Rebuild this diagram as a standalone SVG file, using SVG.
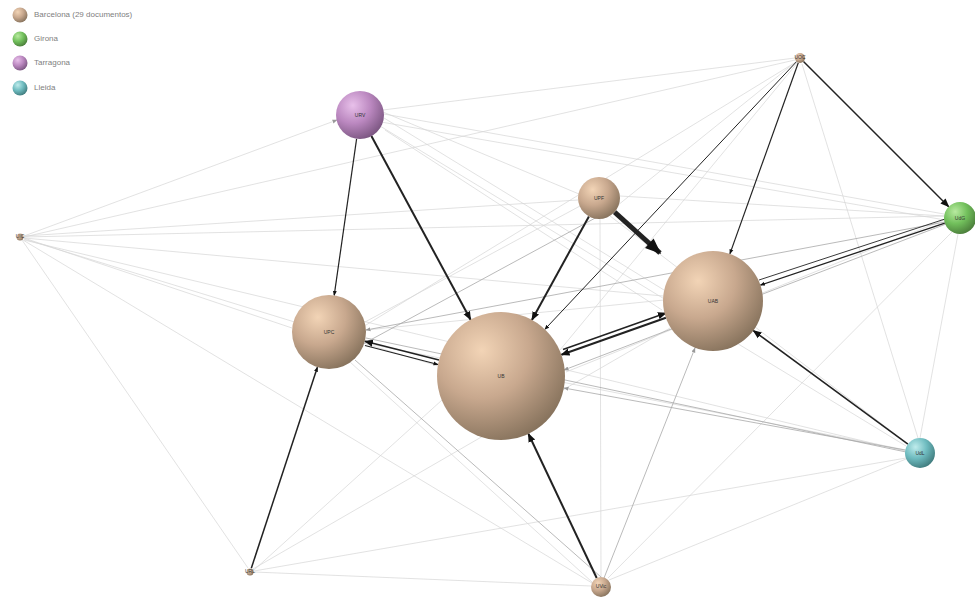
<svg xmlns="http://www.w3.org/2000/svg" width="975" height="601" viewBox="0 0 975 601">
<defs>
<radialGradient id="gTan" cx="0.35" cy="0.3" r="0.75">
<stop offset="0" stop-color="#f2d4b6"/><stop offset="0.5" stop-color="#c8a88e"/><stop offset="1" stop-color="#86725c"/>
</radialGradient>
<radialGradient id="gPur" cx="0.35" cy="0.3" r="0.75">
<stop offset="0" stop-color="#e8c0ea"/><stop offset="0.5" stop-color="#bb88c0"/><stop offset="1" stop-color="#7a5580"/>
</radialGradient>
<radialGradient id="gGrn" cx="0.35" cy="0.3" r="0.75">
<stop offset="0" stop-color="#b8eaa0"/><stop offset="0.5" stop-color="#72c05c"/><stop offset="1" stop-color="#4a7c3a"/>
</radialGradient>
<radialGradient id="gTeal" cx="0.35" cy="0.3" r="0.75">
<stop offset="0" stop-color="#bfecec"/><stop offset="0.5" stop-color="#6fbcc0"/><stop offset="1" stop-color="#3f7a7c"/>
</radialGradient>
<marker id="ah" viewBox="0 0 10 10" refX="9" refY="5" markerWidth="5" markerHeight="5" orient="auto" markerUnits="userSpaceOnUse">
<path d="M0,1 L10,5 L0,9 z" fill="#111"/>
</marker>
<marker id="ahBig" viewBox="0 0 10 10" refX="9" refY="5" markerWidth="18" markerHeight="16" orient="auto" markerUnits="userSpaceOnUse">
<path d="M0,1 L10,5 L0,9 z" fill="#111"/>
</marker>
<marker id="ahMid" viewBox="0 0 10 10" refX="9" refY="5" markerWidth="9" markerHeight="9" orient="auto" markerUnits="userSpaceOnUse">
<path d="M0,1 L10,5 L0,9 z" fill="#111"/>
</marker>
<marker id="ahG" viewBox="0 0 10 10" refX="9" refY="5" markerWidth="5" markerHeight="5" orient="auto" markerUnits="userSpaceOnUse">
<path d="M0,1 L10,5 L0,9 z" fill="#999"/>
</marker>
</defs>
<style>
.lt{stroke:#d6d6d6;stroke-width:0.7;fill:none}
.md{stroke:#a8a8a8;stroke-width:0.8;fill:none}
.dk{stroke:#222;fill:none}
.lab{font-family:"Liberation Sans",Arial,sans-serif;font-size:5px;fill:#333;text-anchor:middle;dominant-baseline:middle}
.leg{font-family:"Liberation Sans",Arial,sans-serif;font-size:8px;fill:#808080;dominant-baseline:middle}
</style>
<rect width="975" height="601" fill="#fff"/>

<g id="legend">
<circle cx="20" cy="15" r="7.5" fill="url(#gTan)"/><text class="leg" x="34" y="15">Barcelona (29 documentos)</text>
<circle cx="20" cy="39" r="7.5" fill="url(#gGrn)"/><text class="leg" x="34" y="39">Girona</text>
<circle cx="20" cy="63" r="7.5" fill="url(#gPur)"/><text class="leg" x="34" y="63">Tarragona</text>
<circle cx="20" cy="88" r="7.5" fill="url(#gTeal)"/><text class="leg" x="34" y="88">Lleida</text>
</g>

<g id="connectors">
<line class="lt" x1="24" y1="236" x2="337" y2="120" marker-end="url(#ahG)"/>
<line class="lt" x1="24" y1="236" x2="578" y2="200"/>
<line class="lt" x1="24" y1="237" x2="795" y2="60"/>
<line class="lt" x1="24" y1="237" x2="944" y2="216"/>
<line class="lt" x1="24" y1="238" x2="663" y2="296"/>
<line class="lt" x1="24" y1="238" x2="292" y2="328"/>
<line class="lt" x1="24" y1="239" x2="438" y2="366"/>
<line class="lt" x1="24" y1="240" x2="905" y2="451"/>
<line class="lt" x1="22" y1="240" x2="248" y2="568"/>
<line class="lt" x1="23" y1="240" x2="592" y2="583"/>
<line class="lt" x1="383" y1="110" x2="795" y2="58"/>
<line class="lt" x1="384" y1="114" x2="944" y2="214"/>
<line class="lt" x1="384" y1="118" x2="664" y2="290"/>
<line class="lt" x1="383" y1="112" x2="579" y2="194"/>
<line class="lt" x1="380" y1="126" x2="906" y2="446"/>
<line class="lt" x1="381" y1="122" x2="945" y2="220"/>
<line class="lt" x1="620" y1="196" x2="944" y2="216"/>
<line class="lt" x1="600" y1="219" x2="601" y2="577"/>
<line class="lt" x1="580" y1="206" x2="365" y2="322"/>
<line class="lt" x1="610" y1="216" x2="908" y2="444"/>
<line class="lt" x1="366" y1="325" x2="796" y2="62"/>
<line class="lt" x1="366" y1="330" x2="664" y2="300"/>
<line class="lt" x1="364" y1="343" x2="906" y2="450"/>
<line class="lt" x1="350" y1="362" x2="592" y2="582"/>
<line class="lt" x1="253" y1="569" x2="670" y2="328"/>
<line class="lt" x1="254" y1="570" x2="442" y2="400"/>
<line class="lt" x1="254" y1="572" x2="591" y2="586"/>
<line class="lt" x1="254" y1="571" x2="906" y2="458"/>
<line class="lt" x1="609" y1="580" x2="906" y2="459"/>
<line class="lt" x1="608" y1="578" x2="952" y2="232"/>
<line class="lt" x1="920" y1="438" x2="958" y2="234"/>
<line class="lt" x1="566" y1="372" x2="944" y2="220"/>
<line class="lt" x1="802" y1="64" x2="918" y2="438"/>
<line class="lt" x1="560" y1="350" x2="798" y2="62"/>
<line class="lt" x1="602" y1="218" x2="798" y2="60"/>
<line class="lt" x1="385" y1="130" x2="662" y2="310"/>
<line class="md" x1="945" y1="222" x2="366" y2="330" marker-end="url(#ahG)"/>
<line class="md" x1="946" y1="224" x2="564" y2="370" marker-end="url(#ahG)"/>
<line class="md" x1="905" y1="450" x2="564" y2="388" marker-end="url(#ahG)"/>
<line class="md" x1="906" y1="452" x2="366" y2="338"/>
<line class="md" x1="604" y1="578" x2="695" y2="348" marker-end="url(#ahG)"/>
<line class="md" x1="610" y1="210" x2="363" y2="344"/>
<line class="md" x1="355" y1="360" x2="601" y2="577"/>
<line class="dk" stroke-width="5" x1="614.6" y1="212.1" x2="660" y2="253" marker-end="url(#ahBig)"/>
<line class="dk" stroke-width="2" x1="588.9" y1="216.4" x2="531.9" y2="319.9" marker-end="url(#ahMid)"/>
<line class="dk" stroke-width="1.2" x1="356.6" y1="138.8" x2="334.2" y2="295.4" marker-end="url(#ah)"/>
<line class="dk" stroke-width="2" x1="371.4" y1="136.1" x2="470.6" y2="319.7" marker-end="url(#ahMid)"/>
<line class="dk" stroke-width="1.2" x1="798.3" y1="62.7" x2="729.9" y2="253.9" marker-end="url(#ah)"/>
<line class="dk" stroke-width="1.5" x1="803.5" y1="61.5" x2="948.7" y2="206.7" marker-end="url(#ahMid)"/>
<line class="dk" stroke-width="1" x1="796.6" y1="61.6" x2="544.8" y2="329.4" marker-end="url(#ah)"/>
<line class="dk" stroke-width="2" x1="665.9" y1="317.7" x2="561.4" y2="354.7" marker-end="url(#ahMid)"/>
<line class="dk" stroke-width="1.5" x1="563" y1="349.5" x2="666" y2="313" marker-end="url(#ahMid)"/>
<line class="dk" stroke-width="1.5" x1="439" y1="360.1" x2="364.9" y2="341.2" marker-end="url(#ahMid)"/>
<line class="dk" stroke-width="1.2" x1="365" y1="345.5" x2="438" y2="364.5" marker-end="url(#ah)"/>
<line class="dk" stroke-width="1.5" x1="907.9" y1="444.1" x2="753.3" y2="330.6" marker-end="url(#ahMid)"/>
<line class="dk" stroke-width="2" x1="596.7" y1="578" x2="528.4" y2="433.8" marker-end="url(#ahMid)"/>
<line class="dk" stroke-width="1.5" x1="251.3" y1="568.2" x2="317.4" y2="367.2" marker-end="url(#ah)"/>
<line class="dk" stroke-width="1.3" x1="944.8" y1="223.1" x2="760.4" y2="285.1" marker-end="url(#ah)"/>
<line class="dk" stroke-width="0.9" x1="945" y1="219" x2="759" y2="280"/>
</g>

<g id="n-UIC"><circle cx="20" cy="237" r="3.5" fill="url(#gTan)"/><text class="lab" x="20" y="237">UIC</text></g>
<g id="n-UOC"><circle cx="800" cy="58" r="5" fill="url(#gTan)"/><text class="lab" x="800" y="58">UOC</text></g>
<g id="n-URL"><circle cx="250" cy="572" r="3.5" fill="url(#gTan)"/><text class="lab" x="250" y="572">URL</text></g>
<g id="n-UVic"><circle cx="601" cy="587" r="10" fill="url(#gTan)"/><text class="lab" x="601" y="587">UVic</text></g>
<g id="n-URV"><circle cx="360" cy="115" r="24" fill="url(#gPur)"/><text class="lab" x="360" y="116">URV</text></g>
<g id="n-UPF"><circle cx="599" cy="198" r="21" fill="url(#gTan)"/><text class="lab" x="599" y="199">UPF</text></g>
<g id="n-UPC"><circle cx="329" cy="332" r="37" fill="url(#gTan)"/><text class="lab" x="329" y="333">UPC</text></g>
<g id="n-UAB"><circle cx="713" cy="301" r="50" fill="url(#gTan)"/><text class="lab" x="713" y="302">UAB</text></g>
<g id="n-UB"><circle cx="501" cy="376" r="64" fill="url(#gTan)"/><text class="lab" x="501" y="377">UB</text></g>
<g id="n-UdG"><circle cx="960" cy="218" r="16" fill="url(#gGrn)"/><text class="lab" x="960" y="219">UdG</text></g>
<g id="n-UdL"><circle cx="920" cy="453" r="15" fill="url(#gTeal)"/><text class="lab" x="920" y="454">UdL</text></g>
</svg>
